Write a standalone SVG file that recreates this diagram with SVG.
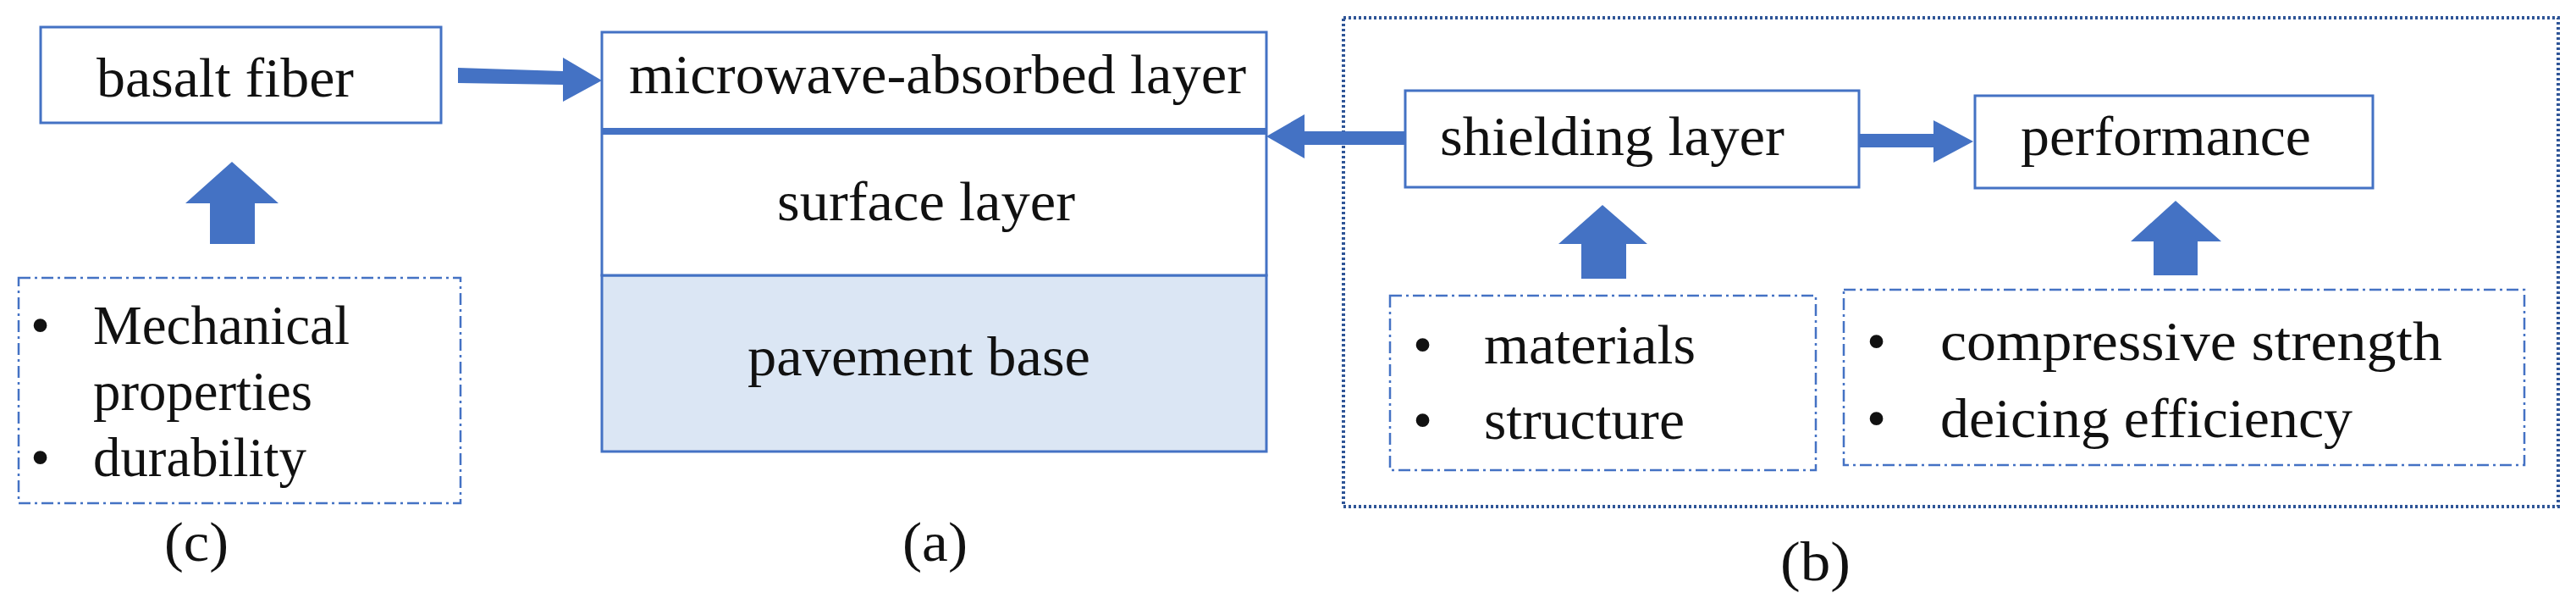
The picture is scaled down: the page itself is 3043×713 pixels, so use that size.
<svg xmlns="http://www.w3.org/2000/svg" width="3043" height="713" viewBox="0 0 3043 713">
<style>
text{font-family:"Liberation Serif","Times New Roman",serif;font-size:66px;fill:#111}
.box{fill:#fff;stroke:#4472C4;stroke-width:3}
.dd{fill:none;stroke:#4472C4;stroke-width:2.5;stroke-dasharray:14 5 3 5}
.arr{fill:#4472C4}
</style>
<rect width="3043" height="713" fill="#fff"/>
<g id="outer-b"><rect x="1587" y="21" width="1435" height="577" fill="none" stroke="#2F5597" stroke-width="4" stroke-dasharray="3 3"/></g>
<g id="basalt-fiber"><rect class="box" x="48" y="32" width="473" height="113"/><text x="114" y="114" textLength="304" lengthAdjust="spacingAndGlyphs">basalt fiber</text></g>
<g id="layers">
<rect x="711" y="325" width="785" height="208" fill="#dbe6f4" stroke="#4472C4" stroke-width="3"/>
<rect class="box" x="711" y="38" width="785" height="287"/>
<line x1="711" y1="155" x2="1496" y2="155" stroke="#4472C4" stroke-width="8"/>
<text x="743" y="110" textLength="729" lengthAdjust="spacingAndGlyphs">microwave-absorbed layer</text>
<text x="918" y="260" textLength="352" lengthAdjust="spacingAndGlyphs">surface layer</text>
<text x="883" y="443" textLength="405" lengthAdjust="spacingAndGlyphs">pavement base</text>
</g>
<g id="c-props"><rect class="dd" x="22" y="328" width="522" height="266"/>
<text x="36" y="406">•</text><text x="110" y="406" textLength="303" lengthAdjust="spacingAndGlyphs">Mechanical</text>
<text x="110" y="484" textLength="259" lengthAdjust="spacingAndGlyphs">properties</text>
<text x="36" y="562">•</text><text x="110" y="562" textLength="252" lengthAdjust="spacingAndGlyphs">durability</text></g>
<g id="shielding-layer"><rect class="box" x="1660" y="107" width="536" height="114"/><text x="1701" y="183" textLength="407" lengthAdjust="spacingAndGlyphs">shielding layer</text></g>
<g id="performance"><rect class="box" x="2333" y="113" width="470" height="109"/><text x="2387" y="183" textLength="343" lengthAdjust="spacingAndGlyphs">performance</text></g>
<g id="b-materials"><rect class="dd" x="1642" y="349" width="503" height="206"/>
<text x="1669" y="429">•</text><text x="1753" y="429" textLength="250" lengthAdjust="spacingAndGlyphs">materials</text>
<text x="1669" y="518">•</text><text x="1753" y="518" textLength="237" lengthAdjust="spacingAndGlyphs">structure</text></g>
<g id="b-perf"><rect class="dd" x="2178" y="342" width="804" height="207"/>
<text x="2205" y="425">•</text><text x="2292" y="425" textLength="593" lengthAdjust="spacingAndGlyphs">compressive  strength</text>
<text x="2205" y="516">•</text><text x="2292" y="516" textLength="487" lengthAdjust="spacingAndGlyphs">deicing efficiency</text></g>
<g id="labels">
<text x="194" y="662" textLength="76" lengthAdjust="spacingAndGlyphs">(c)</text>
<text x="1066" y="662" textLength="77" lengthAdjust="spacingAndGlyphs">(a)</text>
<text x="2103" y="685" textLength="83" lengthAdjust="spacingAndGlyphs">(b)</text>
</g>
<g id="connectors">
<polygon class="arr" points="541,80 665,84 665,68 711,95 665,120 665,100 541,98"/>
<polygon class="arr" points="219,240 274,191 329,240 301,240 301,288 248,288 248,240"/>
<polygon class="arr" points="1660,155 1541,155 1541,135 1496,161 1541,187 1541,171 1660,171"/>
<polygon class="arr" points="2196,158 2284,158 2284,142 2331,167 2284,192 2284,174 2196,174"/>
<polygon class="arr" points="1841,288 1893,242 1946,288 1921,288 1921,329 1868,329 1868,288"/>
<polygon class="arr" points="2517,285 2570,237 2624,285 2596,285 2596,325 2544,325 2544,285"/>
</g>
</svg>
